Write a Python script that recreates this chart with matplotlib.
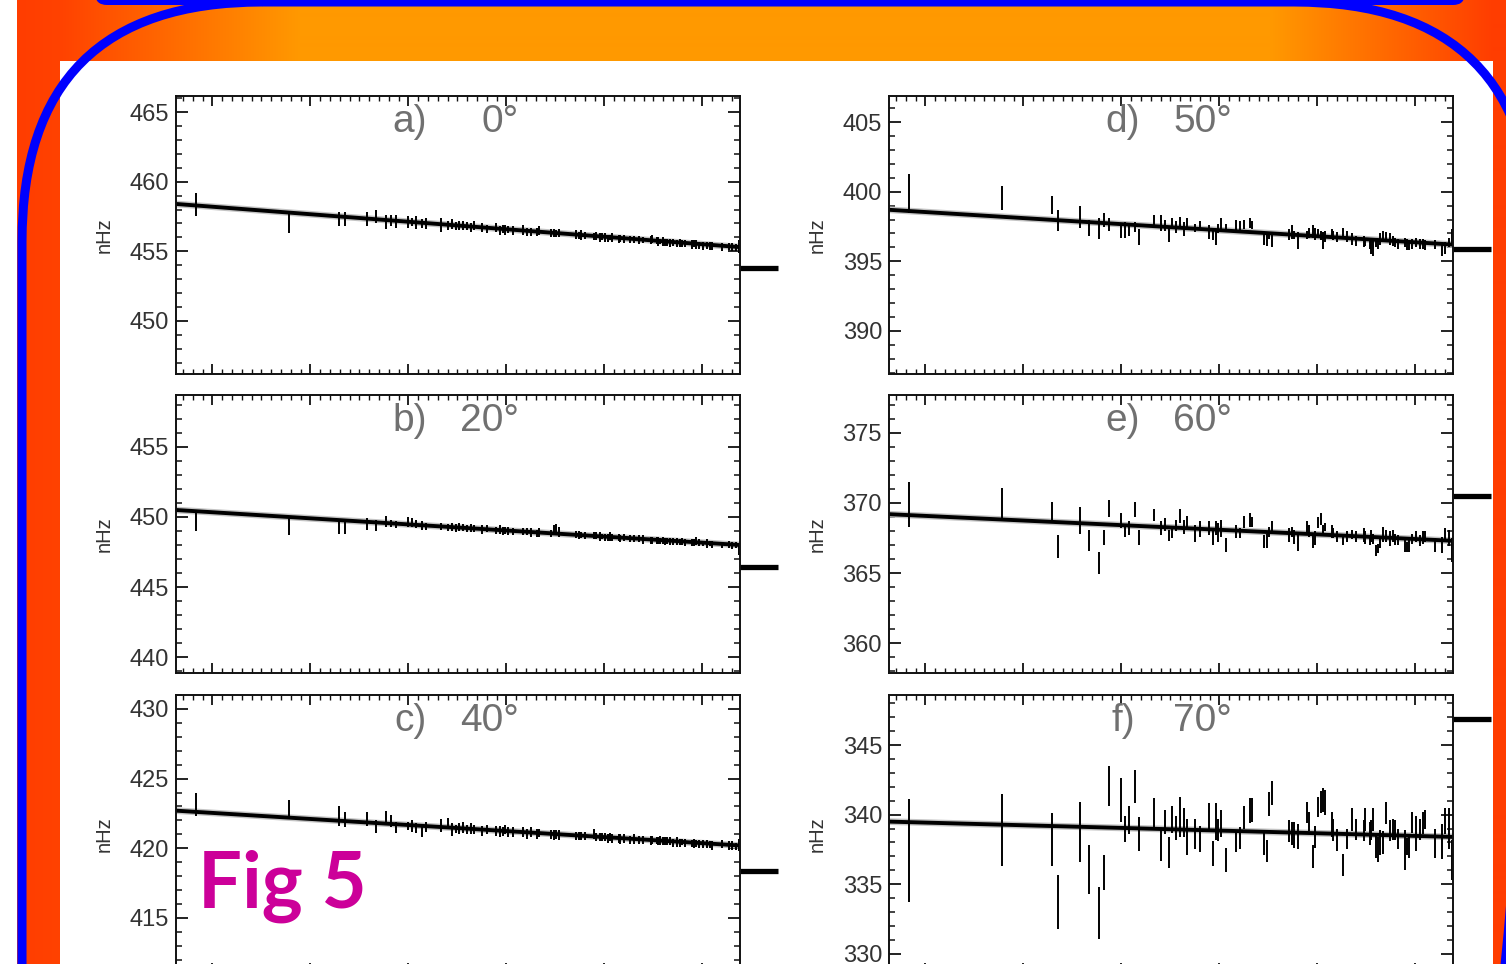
import numpy as np
import matplotlib.pyplot as plt
from matplotlib.patches import Rectangle, FancyBboxPatch
from matplotlib.ticker import MultipleLocator

W, H = 1506, 964

# time of each measurement (arbitrary units, shared by all panels)
t = [-0.17, 0.78, 1.29, 1.35, 1.58, 1.67, 1.77, 1.82, 1.87, 2.00, 2.04, 2.08, 2.14, 2.18, 2.33, 2.40, 2.44, 2.49, 2.52,
     2.56, 2.60, 2.64, 2.67, 2.75, 2.80, 2.89, 2.93, 2.96, 2.99, 3.02, 3.07, 3.17, 3.21, 3.25, 3.31, 3.33, 3.45, 3.49, 3.51, 3.54,
     3.71, 3.74, 3.76, 3.80, 3.89, 3.91, 3.95, 3.97, 4.01, 4.04, 4.06, 4.08, 4.15, 4.16, 4.20, 4.26, 4.30, 4.35, 4.39, 4.47,
     4.49, 4.54, 4.55, 4.57, 4.60, 4.62, 4.64, 4.67, 4.70, 4.74, 4.77, 4.79, 4.82, 4.89, 4.91, 4.93, 4.96, 5.01, 5.05, 5.08,
     5.10, 5.20, 5.27, 5.30, 5.34, 5.37]

# error bar tops / bottoms (nHz) for each latitude
a_hi = [459.2, 457.7, 457.8, 457.8, 457.8, 458.0, 457.6, 457.6, 457.6, 457.5, 457.4, 457.5, 457.3, 457.4, 457.4, 457.2, 457.3, 457.1, 457.2,
        457.2, 457.1, 457.0, 457.2, 457.0, 456.9, 457.0, 456.8, 456.9, 456.9, 456.8, 456.8, 456.9, 456.7, 456.7, 456.7, 456.8, 456.6, 456.6, 456.5, 456.6,
        456.5, 456.4, 456.5, 456.4, 456.3, 456.4, 456.3, 456.3, 456.3, 456.2, 456.2, 456.3, 456.2, 456.2, 456.2, 456.1, 456.1, 456.1, 456.0, 456.1,
        456.2, 456.0, 456.0, 455.9, 456.0, 455.9, 455.9, 455.9, 455.9, 455.8, 455.9, 455.8, 455.8, 455.8, 455.8, 455.8, 455.7, 455.7, 455.7, 455.7,
        455.7, 455.6, 455.6, 455.6, 455.5, 455.8]
a_lo = [457.5, 456.3, 456.8, 456.8, 456.8, 457.0, 456.6, 456.8, 456.7, 456.7, 456.8, 456.6, 456.7, 456.6, 456.4, 456.5, 456.6, 456.5, 456.5,
        456.5, 456.5, 456.4, 456.5, 456.4, 456.3, 456.4, 456.2, 456.3, 456.2, 456.3, 456.2, 456.2, 456.1, 456.1, 456.1, 456.2, 456.0, 456.0, 456.0, 456.0,
        455.9, 455.9, 455.8, 455.9, 455.8, 455.8, 455.7, 455.8, 455.7, 455.7, 455.8, 455.7, 455.6, 455.7, 455.6, 455.6, 455.6, 455.5, 455.6, 455.5,
        455.6, 455.5, 455.4, 455.5, 455.4, 455.4, 455.4, 455.3, 455.4, 455.3, 455.3, 455.3, 455.3, 455.2, 455.3, 455.2, 455.2, 455.1, 455.2, 455.1,
        455.1, 455.0, 455.1, 455.0, 455.0, 454.9]

b_hi = [450.4, 449.9, 449.7, 449.7, 449.9, 449.8, 450.1, 449.8, 449.7, 450.0, 449.9, 449.8, 449.7, 449.6, 449.6, 449.5, 449.6, 449.5, 449.6,
        449.5, 449.4, 449.5, 449.4, 449.4, 449.4, 449.3, 449.4, 449.3, 449.3, 449.3, 449.2, 449.2, 449.2, 449.2, 449.1, 449.2, 449.1, 449.4, 449.5, 449.3,
        449.0, 449.0, 448.9, 448.9, 448.9, 448.9, 448.9, 448.8, 448.8, 448.8, 448.9, 448.8, 448.8, 448.7, 448.8, 448.7, 448.7, 448.7, 448.7, 448.6,
        448.6, 448.6, 448.6, 448.5, 448.6, 448.5, 448.5, 448.5, 448.5, 448.5, 448.4, 448.5, 448.4, 448.4, 448.4, 448.6, 448.4, 448.3, 448.4, 448.3,
        448.3, 448.2, 448.3, 448.2, 448.2, 448.1]
b_lo = [449.0, 448.7, 448.8, 448.8, 449.1, 449.0, 449.3, 449.3, 449.2, 449.3, 449.3, 449.2, 449.1, 449.1, 449.1, 449.0, 449.0, 448.9, 449.0,
        449.0, 448.9, 448.9, 448.9, 448.8, 448.9, 448.8, 448.8, 448.7, 448.8, 448.7, 448.7, 448.7, 448.7, 448.6, 448.6, 448.6, 448.6, 448.7, 448.8, 448.6,
        448.5, 448.4, 448.5, 448.4, 448.4, 448.4, 448.3, 448.4, 448.3, 448.3, 448.3, 448.3, 448.3, 448.2, 448.3, 448.2, 448.2, 448.2, 448.1, 448.1,
        448.1, 448.1, 448.1, 448.1, 448.1, 448.0, 448.1, 448.0, 448.0, 448.0, 448.0, 448.0, 447.9, 447.9, 447.9, 448.0, 447.9, 447.9, 447.8, 447.9,
        447.8, 447.8, 447.8, 447.7, 447.8, 447.3]

c_hi = [424.0, 423.5, 423.0, 422.6, 422.6, 422.0, 422.7, 422.4, 421.9, 421.9, 422.0, 421.8, 421.7, 421.9, 422.1, 422.2, 421.8, 421.7, 421.8,
        421.9, 421.7, 421.8, 421.7, 421.6, 421.7, 421.6, 421.6, 421.5, 421.7, 421.5, 421.5, 421.5, 421.4, 421.5, 421.4, 421.4, 421.3, 421.3, 421.3, 421.3,
        421.2, 421.2, 421.2, 421.2, 421.4, 421.1, 421.1, 421.1, 421.1, 421.0, 421.1, 421.0, 421.0, 421.0, 421.0, 420.9, 421.0, 420.9, 420.9, 420.9,
        420.9, 420.8, 420.8, 420.9, 420.8, 420.8, 420.8, 420.8, 420.7, 420.8, 420.7, 420.7, 420.7, 420.6, 420.7, 420.6, 420.6, 420.6, 420.6, 420.5,
        420.5, 420.6, 420.5, 420.5, 420.4, 420.7]
c_lo = [422.3, 422.2, 421.6, 421.5, 421.6, 421.1, 421.7, 421.5, 421.1, 421.3, 421.2, 421.1, 420.8, 421.2, 421.2, 421.4, 420.9, 421.1, 421.0,
        421.1, 421.0, 421.0, 421.0, 420.9, 421.0, 420.9, 420.8, 420.9, 421.0, 420.8, 420.8, 420.8, 420.7, 420.8, 420.7, 420.8, 420.7, 420.6, 420.7, 420.6,
        420.6, 420.6, 420.6, 420.6, 420.7, 420.5, 420.5, 420.5, 420.5, 420.4, 420.5, 420.4, 420.4, 420.3, 420.4, 420.3, 420.3, 420.3, 420.3, 420.2,
        420.3, 420.3, 420.2, 420.2, 420.2, 420.2, 420.2, 420.2, 420.1, 420.1, 420.1, 420.2, 420.1, 420.1, 420.0, 420.1, 420.0, 420.0, 420.0, 420.0,
        419.9, 420.0, 419.9, 419.9, 419.9, 419.8]

d_hi = [401.3, 400.4, 399.7, 398.7, 399.0, 398.0, 398.1, 398.5, 398.1, 397.6, 397.8, 397.7, 397.8, 397.3, 398.3, 398.3, 398.0, 397.4, 398.1,
        397.9, 398.2, 397.8, 398.1, 397.7, 397.9, 397.6, 397.3, 397.2, 397.7, 398.1, 397.7, 398.0, 397.9, 398.0, 398.1, 397.9, 397.1, 397.0, 397.1, 397.0,
        397.3, 397.6, 397.2, 397.1, 397.2, 397.4, 397.6, 397.4, 397.3, 397.2, 397.1, 397.2, 397.3, 397.2, 397.1, 397.4, 397.2, 397.0, 396.8, 396.8,
        396.7, 396.6, 396.7, 396.6, 396.7, 396.6, 397.0, 397.2, 397.1, 397.0, 396.8, 396.7, 396.6, 396.7, 396.6, 396.5, 396.6, 396.7, 396.6, 396.6,
        396.5, 396.5, 396.4, 396.4, 396.7, 397.3]
d_lo = [398.5, 398.7, 398.4, 397.2, 397.4, 396.8, 396.6, 397.5, 397.2, 396.7, 396.7, 396.8, 397.1, 396.2, 397.4, 397.2, 397.2, 396.4, 397.3,
        397.0, 397.3, 396.8, 397.4, 397.1, 397.4, 396.6, 396.5, 396.2, 397.0, 397.3, 397.1, 397.0, 397.2, 397.3, 397.4, 397.3, 396.2, 396.1, 396.6, 396.0,
        396.5, 396.6, 396.6, 395.9, 396.6, 396.7, 396.7, 396.5, 396.7, 396.5, 395.9, 396.4, 396.6, 396.5, 396.4, 396.7, 396.4, 396.2, 396.1, 396.0,
        396.1, 395.9, 395.5, 395.4, 396.0, 395.9, 396.2, 396.5, 396.4, 396.2, 396.1, 396.0, 395.9, 396.0, 395.8, 395.8, 395.9, 396.0, 395.9, 395.9,
        395.8, 395.9, 395.4, 395.5, 396.0, 396.1]

e_hi = [371.5, 371.1, 370.1, 367.7, 369.7, 368.1, 366.5, 368.1, 370.2, 369.3, 368.5, 368.7, 370.1, 368.1, 369.6, 368.7, 368.9, 368.1, 368.2,
        368.8, 369.6, 368.8, 369.1, 368.4, 368.7, 368.7, 368.0, 368.7, 368.6, 368.8, 367.5, 368.4, 368.2, 369.1, 369.3, 369.0, 367.7, 367.8, 368.3, 368.7,
        368.2, 368.3, 368.1, 367.7, 368.7, 368.4, 367.7, 368.0, 369.0, 369.3, 368.4, 368.6, 368.4, 368.2, 368.0, 367.7, 368.0, 368.1, 368.0, 368.2,
        368.0, 367.7, 368.1, 367.8, 367.0, 367.1, 367.6, 368.3, 368.1, 368.0, 368.1, 367.8, 367.7, 367.5, 367.2, 367.5, 367.8, 368.0, 367.7, 368.0,
        368.0, 367.5, 367.6, 368.2, 368.1, 367.5]
e_lo = [368.3, 368.8, 368.7, 366.1, 367.8, 366.6, 364.9, 367.0, 369.0, 368.2, 367.6, 367.7, 369.0, 367.0, 368.7, 367.7, 368.0, 367.3, 367.5,
        368.0, 368.6, 367.8, 368.2, 367.2, 367.6, 367.7, 367.0, 367.7, 367.2, 367.6, 366.5, 367.5, 367.5, 368.2, 368.3, 368.3, 366.8, 366.8, 367.6, 367.8,
        367.2, 367.6, 367.1, 366.6, 367.7, 367.6, 366.8, 367.0, 368.2, 368.4, 367.8, 368.0, 367.5, 367.5, 367.2, 367.0, 367.2, 367.4, 367.2, 367.2,
        367.1, 367.0, 367.2, 367.1, 366.2, 366.4, 366.8, 367.2, 367.2, 366.9, 367.2, 367.0, 367.0, 366.5, 366.5, 366.5, 367.1, 367.2, 366.9, 367.1,
        367.2, 366.5, 366.4, 367.4, 366.9, 365.8]

f_hi = [341.1, 341.5, 340.1, 335.7, 340.9, 337.8, 334.8, 337.1, 343.5, 342.6, 339.9, 340.6, 343.2, 339.8, 341.2, 339.0, 340.3, 338.4, 340.6,
        339.9, 341.3, 340.5, 339.7, 339.7, 339.2, 340.8, 338.1, 340.8, 339.7, 340.3, 337.6, 338.9, 339.1, 340.6, 341.2, 341.2, 338.7, 338.2, 341.6, 342.4,
        339.6, 339.5, 339.5, 339.3, 340.9, 340.2, 337.8, 339.2, 341.3, 341.7, 341.9, 341.8, 340.2, 339.7, 339.0, 337.2, 339.0, 340.5, 339.7, 339.6,
        340.5, 339.5, 339.6, 340.5, 338.7, 338.4, 338.9, 338.8, 340.9, 339.6, 339.7, 339.6, 339.0, 338.9, 338.3, 338.4, 340.2, 339.9, 339.7, 340.2,
        340.3, 339.0, 339.3, 340.5, 340.5, 338.2]
f_lo = [333.7, 336.3, 336.3, 331.8, 336.6, 334.3, 331.1, 334.6, 340.6, 339.5, 338.0, 338.6, 340.8, 337.4, 339.0, 336.7, 338.6, 336.2, 338.7,
        338.2, 338.4, 338.4, 337.1, 337.5, 337.3, 338.9, 336.3, 338.2, 338.1, 338.4, 335.9, 337.3, 337.5, 339.0, 339.4, 339.5, 337.1, 336.6, 339.9, 340.7,
        338.0, 337.8, 337.6, 337.5, 339.4, 338.8, 336.2, 337.6, 339.8, 340.1, 340.2, 340.0, 338.4, 338.1, 337.4, 335.6, 337.5, 338.8, 338.2, 338.1,
        338.8, 337.8, 338.2, 338.8, 336.9, 336.6, 337.1, 337.2, 339.3, 338.1, 338.2, 338.2, 337.5, 336.0, 337.1, 336.9, 338.7, 337.4, 338.2, 338.6,
        339.0, 336.9, 336.8, 338.6, 337.5, 335.3]

# linear fit at start / end of the time range
fit_a = [458.4, 455.3]
fit_b = [450.5, 448.0]
fit_c = [422.7, 420.2]
fit_d = [398.7, 396.2]
fit_e = [369.2, 367.3]
fit_f = [339.5, 338.4]

# reference level marked just outside each panel
ref = [453.8, 446.4, 418.35, 395.85, 370.5, 346.85]

labels = ['a)', 'b)', 'c)', 'd)', 'e)', 'f)']
angles = ['0°', '20°', '40°', '50°', '60°', '70°']
ylims = [(446.19, 466.15), (438.86, 458.71), (411.05, 431.0),
         (386.91, 406.87), (357.86, 377.71), (328.63, 348.59)]

XLIM = [-0.372, 5.383]

fig = plt.figure(figsize=(W / 100, H / 100), dpi=100)

# poster background
bg = fig.add_axes([0, 0, 1, 1])
bg.axis('off')
bg.set_zorder(-5)
xs = np.arange(17, W)
green = np.interp(xs, [17, 60, 300, 1270, 1493, 1506], [61, 66, 153, 153, 61, 61]) / 255
grad = np.zeros((1, len(xs), 3))
grad[0, :, 0] = 1.0
grad[0, :, 1] = green
bg.imshow(grad, extent=[17, W, H, 0], aspect='auto', interpolation='bilinear')
bg.add_patch(Rectangle((60, 61), 1433, 920, fc='white', ec='none'))
bg.add_patch(FancyBboxPatch((95, -40), 1370, 45, boxstyle='round,pad=0,rounding_size=12',
                            fc='#0000FF', ec='none'))
bg.add_patch(FancyBboxPatch((22, 2), 1512, 1500, boxstyle='round,pad=0,rounding_size=240',
                            fc='none', ec='#0000FF', lw=6.5))
bg.set_xlim(0, W)
bg.set_ylim(H, 0)

data = [(a_lo, a_hi, fit_a), (b_lo, b_hi, fit_b), (c_lo, c_hi, fit_c),
        (d_lo, d_hi, fit_d), (e_lo, e_hi, fit_e), (f_lo, f_hi, fit_f)]

lefts = [176, 889]
tops = [96, 395, 695]
pw, ph = 564, 278

for i, (lo, hi, fit) in enumerate(data):
    col, row = i // 3, i % 3
    ax = fig.add_axes([lefts[col] / W, 1 - (tops[row] + ph) / H, pw / W, ph / H])
    ax.plot(XLIM, fit, color='#c4c4c4', lw=4.8, solid_capstyle='butt')
    ax.plot(XLIM, fit, color='k', lw=2.8, solid_capstyle='butt')
    ax.vlines(t, lo, hi, color='k', lw=1.4)
    ax.plot([XLIM[1], XLIM[1] + 0.39], [ref[i], ref[i]], color='k', lw=3.8,
            solid_capstyle='butt', clip_on=False)
    ax.set_xlim(XLIM)
    ax.set_ylim(ylims[i])
    ax.xaxis.set_major_locator(MultipleLocator(1))
    ax.xaxis.set_minor_locator(MultipleLocator(0.1))
    ax.yaxis.set_major_locator(MultipleLocator(5))
    ax.yaxis.set_minor_locator(MultipleLocator(1))
    ax.tick_params(which='both', direction='in', top=True, right=True,
                   labelbottom=False, color='#111')
    ax.tick_params(axis='y', which='major', length=8.5, width=1.3, pad=5,
                   labelsize=17, labelcolor='#333')
    ax.tick_params(axis='y', which='minor', length=4.3, width=1.1)
    ax.tick_params(axis='x', which='major', length=7, width=1.3)
    ax.tick_params(axis='x', which='minor', length=3.6, width=1.0)
    for lab in ax.get_yticklabels():
        lab.set_fontfamily('Liberation Sans')
    for s in ax.spines.values():
        s.set_linewidth(1.4)
        s.set_color('#111')
    ax.set_ylabel('nHz', fontsize=14.5, color='#333', family='Liberation Sans')
    ax.yaxis.set_label_coords(-0.11, 0.5)
    ax.text(0.415, 0.905, labels[i], transform=ax.transAxes, ha='center', va='center',
            fontsize=28, color='#707070', family='Liberation Sans')
    ax.text(0.608, 0.905, angles[i], transform=ax.transAxes, ha='right', va='center',
            fontsize=28, color='#707070', family='Liberation Sans')

fig.text(198 / W, 1 - 908 / H, 'Fig 5', fontsize=56, color='#CC0099', weight='bold',
         family='Lato', ha='left', va='baseline')

fig.savefig('out.png', dpi=100)
